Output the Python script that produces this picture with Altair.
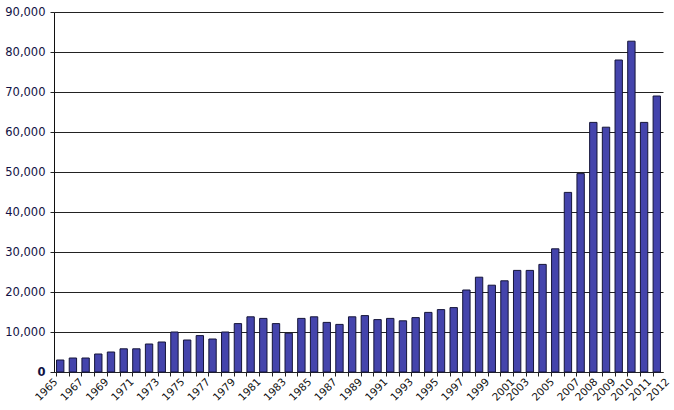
import altair as alt
import pandas as pd

years = list(range(1965, 2013))
values = [
    3000, 3500, 3500, 4500, 5000, 5800, 5800, 7000, 7500, 10000,
    8000, 9100, 8250, 10000, 12100, 13800, 13400, 12100, 9700, 13400,
    13800, 12400, 11900, 13800, 14100, 13100, 13400, 12800, 13600, 14900,
    15600, 16100, 20500, 23700, 21700, 22800, 25400, 25400, 26900, 30800,
    44900, 49600, 62400, 61200, 78000, 82700, 62400, 69000,
]
y_ticks = [0, 10000, 20000, 30000, 40000, 50000, 60000, 70000, 80000, 90000]

df = pd.DataFrame({"year": [str(y) for y in years], "value": values})

FONT = "DejaVu Sans"
YR = "toNumber(datum.value)"

chart = (
    alt.Chart(df)
    .mark_bar(color="#4444ac", stroke="#15153a", strokeWidth=1)
    .encode(
        x=alt.X(
            "year:N",
            sort=None,
            scale=alt.Scale(paddingInner=0.42, paddingOuter=0.2),
            axis=alt.Axis(
                title=None,
                bandPosition=0,
                labelAngle=-45,
                labelAlign="right",
                labelBaseline="middle",
                labelExpr=f"({YR} <= 2007 && {YR} % 2 == 1) || {YR} >= 2008 ? datum.value : ''",
                labelOffset=alt.expr(
                    f"{YR} <= 2001 ? -4 : ({YR} <= 2007 ? -15 : -15 + ({YR} - 2007) * 5.2)"
                ),
                labelFont=FONT,
                labelFontSize=10.5,
                labelColor="#111111",
                labelPadding=4,
                labelOverlap=False,
                tickColor="#222222",
                tickSize=4,
                domainColor="#222222",
                grid=False,
            ),
        ),
        y=alt.Y(
            "value:Q",
            scale=alt.Scale(domain=[0, 90000], nice=False),
            axis=alt.Axis(
                title=None,
                values=y_ticks,
                labelExpr="format(datum.value, ',')",
                labelFont=FONT,
                labelFontSize=11.5,
                labelColor="#111144",
                labelFontWeight=alt.expr("datum.value == 0 ? 'bold' : 'normal'"),
                labelPadding=5,
                tickColor="#222222",
                tickSize=4,
                domainColor="#111111",
                grid=True,
                gridColor="#222222",
                gridWidth=1,
                gridOpacity=1,
            ),
        ),
    )
    .properties(
        width=609,
        height=360,
        autosize=alt.AutoSizeParams(type="none"),
        padding={"left": 54, "top": 12, "right": 11, "bottom": 38},
        background="white",
    )
    .configure_view(stroke=None)
)

chart.save("out.html", embed_options={"renderer": "svg", "actions": False})
